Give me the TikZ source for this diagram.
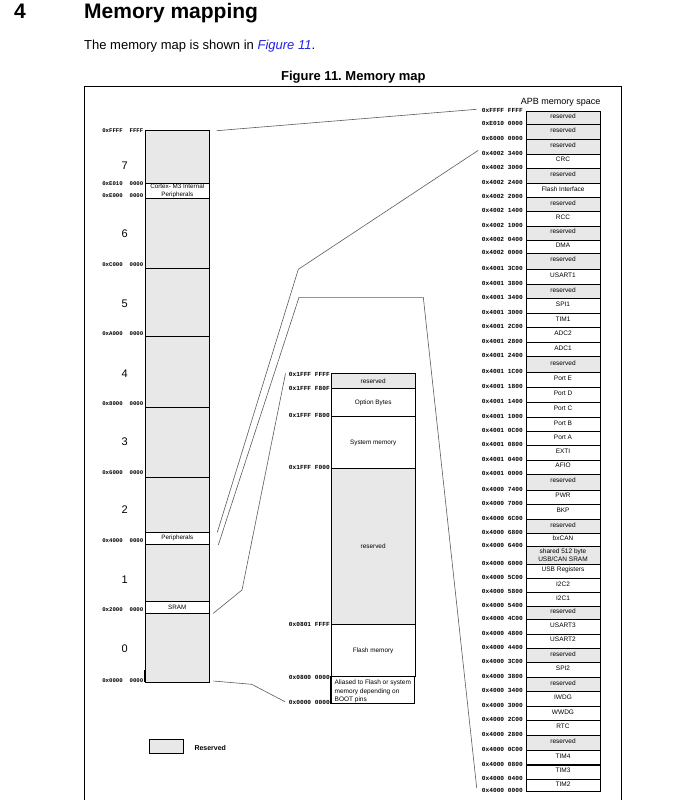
\documentclass[tikz,border=0pt]{standalone}
\usepackage{fontspec}
\setmainfont{Liberation Sans}
\newfontfamily\addrfont{Liberation Mono}
\definecolor{resgray}{HTML}{E8E8E8}
\definecolor{linkblue}{HTML}{2222DD}
\definecolor{conn}{HTML}{5A5A5A}
\frenchspacing
\begin{document}
\begin{tikzpicture}[x=1pt,y=-1pt,
  addr/.style={font=\addrfont\bfseries\fontsize{6.2}{7}\selectfont, inner sep=0pt, anchor=east},
  addrL/.style={font=\addrfont\bfseries\fontsize{5.7}{7}\selectfont, inner sep=0pt, anchor=east},
  rowbox/.style={draw=black, line width=0.7pt, inner sep=0pt, minimum width=74pt,
     font=\fontsize{6.5}{7.5}\selectfont, text height=3pt, text depth=1.5pt},
  lbox/.style={draw=black, line width=0.7pt, inner sep=0pt, minimum width=64.5pt,
     font=\fontsize{6.3}{7.5}\selectfont, align=center},
  mbox/.style={draw=black, line width=0.7pt, inner sep=0pt, minimum width=84.3pt,
     font=\fontsize{6.4}{7.5}\selectfont, align=center},
  num/.style={font=\fontsize{11}{12}\selectfont, inner sep=0pt},
  conline/.style={draw=conn, line width=0.6pt},
  thickrule/.style={line width=1.3pt},
  txt/.style={inner sep=0pt, anchor=base west}
]
\useasboundingbox (0,0) rectangle (672,800);

% ---------- header ----------
\node[txt] (secnum) at (14,19) {\fontsize{21}{24}\selectfont\bfseries 4};
\node[txt] (sectitle) at (84,19) {\fontsize{21}{24}\selectfont\bfseries Memory mapping};
\node[txt] (intro) at (84,49) {\fontsize{13}{15}\selectfont The memory map is shown in \textcolor{linkblue}{\itshape Figure 11}.};
\node[inner sep=0pt, anchor=base] (figcap) at (353.4,81) {\fontsize{13}{15}\selectfont\bfseries Figure 11. Memory map};

% ---------- frame ----------
\draw[line width=1pt] (84,800) -- (84,86) -- (621,86) -- (621,800);

% ---------- left column ----------
\node[lbox, fill=resgray, minimum height=53.3pt] (L1) at (177.25,156.65) {};
\node[lbox, fill=white, minimum height=15pt] (L2) at (177.25,190.8) {Cortex- M3 Internal\\Peripherals};
\node[lbox, fill=resgray, minimum height=70pt] (L3) at (177.25,233.3) {};
\node[lbox, fill=resgray, minimum height=68pt] (L4) at (177.25,302.3) {};
\node[lbox, fill=resgray, minimum height=71pt] (L5) at (177.25,371.8) {};
\node[lbox, fill=resgray, minimum height=70.4pt] (L6) at (177.25,442.5) {};
\node[lbox, fill=resgray, minimum height=54.6pt] (L7) at (177.25,505) {};
\node[lbox, fill=white, minimum height=12pt] (L8) at (177.25,538.3) {Peripherals};
\node[lbox, fill=resgray, minimum height=57.4pt] (L9) at (177.25,573) {};
\node[lbox, fill=white, minimum height=11.6pt] (L10) at (177.25,607.5) {SRAM};
\node[lbox, fill=resgray, minimum height=69pt] (L11) at (177.25,647.8) {};
\draw[thickrule] (145,670) -- (145,682.3);

\foreach \y/\t [count=\i] in {131/0xFFFF\ \ FFFF, 183.3/0xE010\ \ 0000, 196/0xE000\ \ 0000,
  265/0xC000\ \ 0000, 334/0xA000\ \ 0000, 404/0x8000\ \ 0000, 473/0x6000\ \ 0000,
  541/0x4000\ \ 0000, 610/0x2000\ \ 0000, 681/0x0000\ \ 0000}
  \node[addrL] (la\i) at (143.5,\y) {\t};

\foreach \y/\t [count=\i] in {165.7/7, 234/6, 303.3/5, 373.3/4, 441.3/3, 510/2, 580/1, 649/0}
  \node[num] (n\i) at (124.7,\y) {\t};

% ---------- middle column ----------
\node[mbox, fill=resgray, minimum height=14.6pt] (M1) at (373.15,381) {reserved};
\node[mbox, fill=white, minimum height=28.4pt] (M2) at (373.15,402.5) {Option Bytes};
\node[mbox, fill=white, minimum height=51.6pt] (M3) at (373.15,442.5) {System memory};
\node[mbox, fill=resgray, minimum height=156pt] (M4) at (373.15,546.3) {reserved};
\node[mbox, fill=white, minimum height=52.4pt] (M5) at (373.15,650.5) {Flash memory};
\node[draw=black, line width=1.1pt, fill=white, inner sep=0pt, minimum width=83.3pt, minimum height=26.6pt] (M6) at (372.65,690) {};
\node[inner sep=0pt, anchor=north west, align=left,
  font=\fontsize{6.5}{8.7}\selectfont] (M6t) at (334.5,679.6) {Aliased to Flash or system\\memory depending on\\BOOT pins};

\foreach \y/\t [count=\i] in {374/0x1FFF FFFF, 388.3/0x1FFF F80F, 415/0x1FFF F800,
  467.7/0x1FFF F000, 624.3/0x0801 FFFF, 677.7/0x0800 0000, 702.3/0x0000 0000}
  \node[addr] (ma\i) at (330,\y) {\t};

% ---------- right column ----------
\node[inner sep=0pt, anchor=east, font=\fontsize{9}{10}\selectfont] (apb) at (600.5,102.3) {APB memory space};

\foreach \a/\b/\t/\f [count=\i] in {
111/124.3/reserved/resgray, 124.3/139.3/reserved/resgray, 139.3/154/reserved/resgray,
154/168.3/CRC/white, 168.3/183.3/reserved/resgray, 183.3/197.3/Flash Interface/white,
197.3/211.7/reserved/resgray, 211.7/226/RCC/white, 226/240/reserved/resgray,
240/253.3/DMA/white, 253.3/269/reserved/resgray, 269/284.3/USART1/white,
284.3/298.3/reserved/resgray, 298.3/313.3/SPI1/white, 313.3/327.7/TIM1/white,
327.7/342.3/ADC2/white, 342.3/356.7/ADC1/white, 356.7/372.7/reserved/resgray,
372.7/387.3/Port E/white, 387.3/402.3/Port D/white, 402.3/417.3/Port C/white,
417.3/431.7/Port B/white, 431.7/445.7/Port A/white, 445.7/460/EXTI/white,
460/474.3/AFIO/white, 474.3/490/reserved/resgray, 490/504.3/PWR/white,
504.3/519.3/BKP/white, 519.3/533.3/reserved/resgray, 533.3/546.7/bxCAN/white,
564/578.3/USB Registers/white, 578.3/592.3/I2C2/white, 592.3/606.7/I2C1/white,
606.7/619.3/reserved/resgray, 619.3/634/USART3/white, 634/648.3/USART2/white,
648.3/662.7/reserved/resgray, 662.7/677.3/SPI2/white, 677.3/691.7/reserved/resgray,
691.7/706/IWDG/white, 706/720.7/WWDG/white, 720.7/735/RTC/white,
735/750/reserved/resgray, 750/765/TIM4/white, 765/779.3/TIM3/white,
779.3/791.7/TIM2/white}
  \node[rowbox, fill=\f, minimum height={(\b-\a)*1pt}] (R\i) at (563,{(\a+\b)/2}) {\t};

\node[rowbox, fill=resgray, minimum height=17.3pt, text height=, text depth=, align=center,
  font=\fontsize{6.5}{7.6}\selectfont] (Rshared) at (563,555.35) {shared 512 byte\\USB/CAN SRAM};

\foreach \y in {124.3, 197.3, 327.7, 372.7, 445.7, 474.3, 519.3, 592.3, 619.3, 648.3, 720.7, 765}
  \draw[thickrule] (526,\y) -- (600,\y);

\foreach \y/\t [count=\i] in {
111/0xFFFF FFFF, 124.3/0xE010 0000, 139.3/0x6000 0000, 154/0x4002 3400,
168.3/0x4002 3000, 183.3/0x4002 2400, 197.3/0x4002 2000, 211.7/0x4002 1400,
226/0x4002 1000, 240/0x4002 0400, 253.3/0x4002 0000, 269/0x4001 3C00,
284.3/0x4001 3800, 298.3/0x4001 3400, 313.3/0x4001 3000, 327.7/0x4001 2C00,
342.3/0x4001 2800, 356.7/0x4001 2400, 372.7/0x4001 1C00, 387.3/0x4001 1800,
402.3/0x4001 1400, 417.3/0x4001 1000, 431.7/0x4001 0C00, 445.7/0x4001 0800,
460/0x4001 0400, 474.3/0x4001 0000, 490/0x4000 7400, 504.3/0x4000 7000,
519.3/0x4000 6C00, 533.3/0x4000 6800, 546.7/0x4000 6400, 564/0x4000 6000,
578.3/0x4000 5C00, 592.3/0x4000 5800, 606.7/0x4000 5400, 619.3/0x4000 4C00,
634/0x4000 4800, 648.3/0x4000 4400, 662.7/0x4000 3C00, 677.3/0x4000 3800,
691.7/0x4000 3400, 706/0x4000 3000, 720.7/0x4000 2C00, 735/0x4000 2800,
750/0x4000 0C00, 765/0x4000 0800, 779.3/0x4000 0400, 791.7/0x4000 0000}
  \node[addr] (ra\i) at (523,\y-1) {\t};

% ---------- legend ----------
\node[draw=black, line width=0.8pt, fill=resgray, inner sep=0pt, minimum width=34.4pt, minimum height=14pt] (legbox) at (166.5,746.3) {};
\node[inner sep=0pt, anchor=west, font=\fontsize{7}{8}\selectfont\bfseries] (legtxt) at (194.3,748) {Reserved};

% ---------- connectors ----------
\coordinate (c1a) at (216.7,130.7);  \coordinate (c1b) at (476.7,109.3);
\coordinate (c2a) at (217.3,532.3);  \coordinate (c2m) at (298.3,269.3); \coordinate (c2b) at (478.3,150.3);
\coordinate (c3a) at (218.3,545);    \coordinate (c3m) at (299,297.3);  \coordinate (c3n) at (423.3,297.3); \coordinate (c3b) at (476.7,788);
\coordinate (c4a) at (213.3,613.3);  \coordinate (c4m) at (242,590);    \coordinate (c4b) at (285.5,373.5);
\coordinate (c5a) at (213.3,681);    \coordinate (c5m) at (251.7,684.3); \coordinate (c5b) at (285,701.7);
\draw[conline] (c1a) -- (c1b);
\draw[conline] (c2a) -- (c2m) -- (c2b);
\draw[conline] (c3a) -- (c3m) -- (c3n) -- (c3b);
\draw[conline] (c4a) -- (c4m) -- (c4b);
\draw[conline] (c5a) -- (c5m) -- (c5b);
\end{tikzpicture}
\end{document}
